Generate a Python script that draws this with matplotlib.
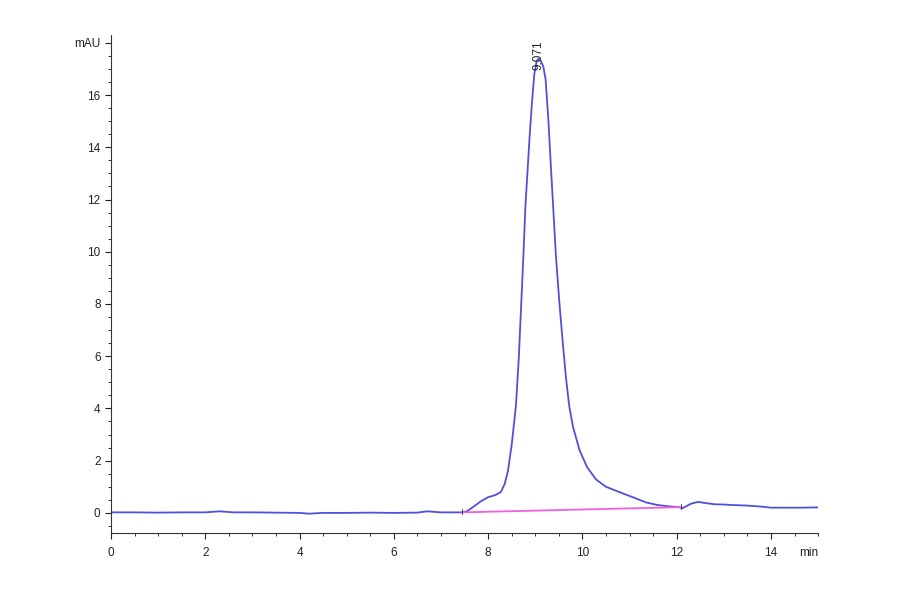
#Chromatogramm (mAU gegen min) nachzeichnen

#Bibliotheken importieren
import matplotlib
matplotlib.use('Agg')
import matplotlib.pyplot as plt
from matplotlib.ticker import MultipleLocator, FixedLocator

time_min = [0, 0.5, 1.0, 1.5, 2.0, 2.3, 2.6, 3.0, 3.5, 4.0, 4.2, 4.5, 5.0, 5.5,
            6.0, 6.5, 6.7, 7.0, 7.3, 7.45, 7.55, 7.7, 7.85, 8.0, 8.15, 8.27,
            8.35, 8.42, 8.5, 8.59, 8.65, 8.70, 8.75, 8.79, 8.84, 8.88, 8.93,
            8.98, 9.03, 9.07, 9.12, 9.17, 9.22, 9.28, 9.34, 9.39, 9.44, 9.51,
            9.58, 9.65, 9.72, 9.8, 9.94, 10.1, 10.29, 10.5, 10.85, 11.1, 11.35,
            11.6, 11.9, 12.05, 12.12, 12.2, 12.3, 12.45, 12.6, 12.8, 13.0, 13.2,
            13.5, 13.8, 14.0, 14.3, 14.6, 15.0]
signal_mau = [0.02, 0.02, 0.01, 0.02, 0.02, 0.06, 0.02, 0.02, 0.01, 0.0, -0.03,
              0.0, 0.0, 0.01, 0.0, 0.01, 0.06, 0.02, 0.02, 0.02, 0.06, 0.25,
              0.45, 0.6, 0.68, 0.8, 1.1, 1.6, 2.6, 4.1, 5.9, 7.9, 9.9, 11.7,
              13.2, 14.4, 15.7, 16.8, 17.3, 17.4, 17.3, 17.1, 16.6, 15.0, 13.0,
              11.4, 9.8, 8.1, 6.6, 5.2, 4.1, 3.3, 2.4, 1.75, 1.28, 1.0, 0.75,
              0.58, 0.4, 0.3, 0.24, 0.22, 0.18, 0.25, 0.35, 0.42, 0.38, 0.33,
              0.32, 0.3, 0.28, 0.24, 0.2, 0.2, 0.2, 0.21]

#Integrationsgrenzen und Basislinie des Peaks
peak_bounds = [7.45, 12.1]
peak_baseline = [0.02, 0.22]
peak_rt = 9.071
peak_label = '9.071'

#Achsenbeschriftung
y_ticks = [0, 2, 4, 6, 8, 10, 12, 14, 16, 18]
y_labels = ['0', '2', '4', '6', '8', '10', '12', '14', '16', 'mAU']
x_ticks = [0, 2, 4, 6, 8, 10, 12, 14]

plt.rcParams['font.family'] = ['Liberation Sans', 'DejaVu Sans']

#Grundlegende Definition
fig = plt.figure(figsize=(9, 5.94), dpi=100)
ax = fig.add_axes([0.1233, 0.1027, 0.7857, 0.8383])

#Kurve und Basislinie
ax.plot(time_min, signal_mau, color='#5050d8', lw=1.3)
ax.plot(peak_bounds, peak_baseline, color='#f060e0', lw=1.3)
#kleine Striche an den Peakgrenzen
for xb, yb in zip(peak_bounds, peak_baseline):
    ax.plot([xb, xb], [yb - 0.08, yb + 0.12], color='#333333', lw=0.6)

#Retentionszeit an der Spitze
ax.text(peak_rt, 16.95, peak_label, rotation=90, ha='center', va='bottom',
        fontsize=8.5, color='#222222')

#Achsen
ax.set_xlim(0, 15)
ax.set_ylim(-0.77, 18.3)
ax.spines['top'].set_visible(False)
ax.spines['right'].set_visible(False)
for s in ['left', 'bottom']:
    ax.spines[s].set_color('#333333')
    ax.spines[s].set_linewidth(0.8)

ax.xaxis.set_major_locator(FixedLocator(x_ticks))
ax.xaxis.set_minor_locator(MultipleLocator(0.5))
ax.set_yticks(y_ticks)
ax.set_yticklabels(y_labels)
ax.yaxis.set_minor_locator(MultipleLocator(0.5))
ax.tick_params(which='major', length=4, width=0.8, colors='#222222',
               labelsize=8.5)
ax.tick_params(axis='x', which='major', pad=6)
ax.tick_params(which='minor', length=2, width=0.7, colors='#333333')

#Einheit der x-Achse
ax.annotate('min', xy=(15, -0.77), xytext=(0, -10), textcoords='offset points',
            ha='right', va='top', fontsize=8.5, color='#222222')

fig.savefig('out.png', dpi=100, facecolor='white')
